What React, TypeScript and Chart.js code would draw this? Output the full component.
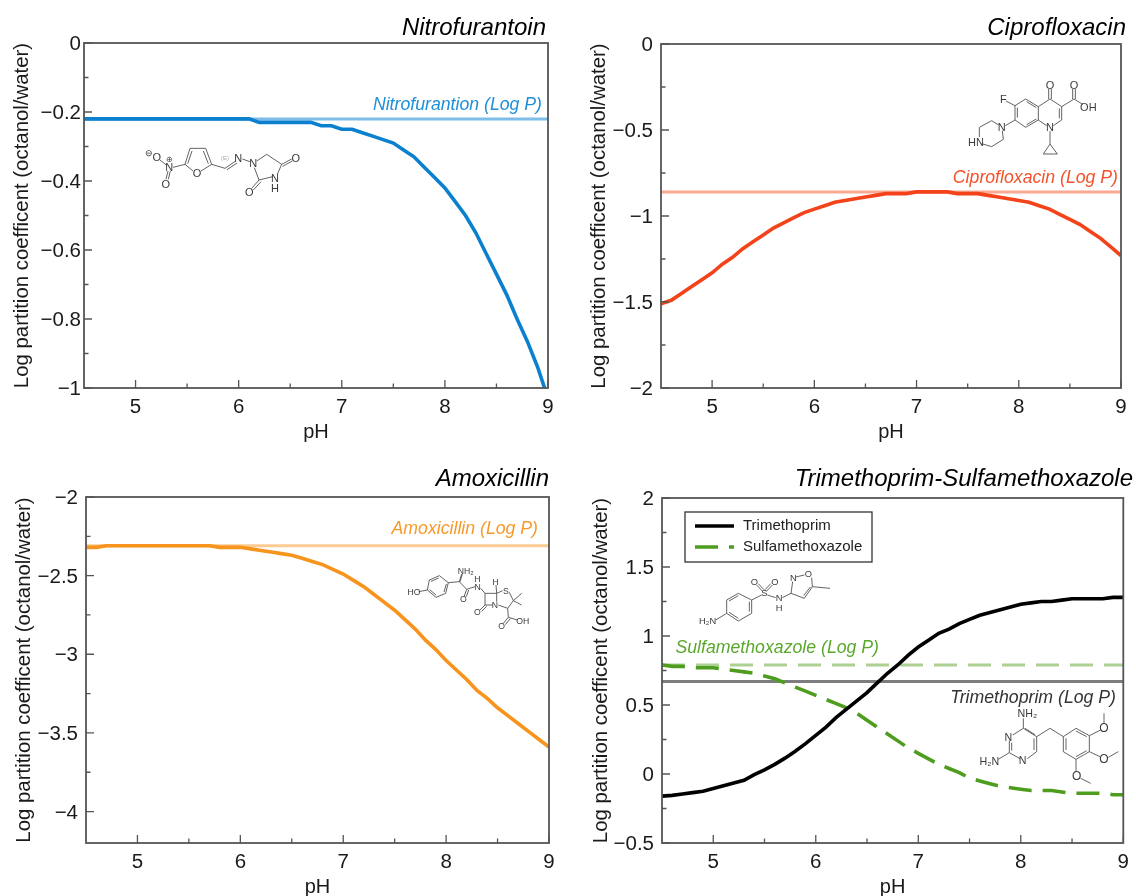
import React, { useEffect, useRef } from "react";
import { Chart, registerables } from "chart.js";

Chart.register(...registerables);

const FONT = "'Liberation Sans', Arial, sans-serif";

const pH = [
  4.5, 4.6, 4.7, 4.8, 4.9, 5, 5.1, 5.2, 5.3, 5.4, 5.5, 5.6, 5.7, 5.8, 5.9, 6, 6.1, 6.2, 6.3, 6.4, 6.5, 6.6, 6.7, 6.8,
  6.9, 7, 7.1, 7.2, 7.3, 7.4, 7.5, 7.6, 7.7, 7.8, 7.9, 8, 8.1, 8.2, 8.3, 8.4, 8.5, 8.6, 8.7, 8.8, 8.9, 9,
];
const xTicks = [5, 5.5, 6, 6.5, 7, 7.5, 8, 8.5, 9];

const nitrofurantoin = [
  -0.22, -0.22, -0.22, -0.22, -0.22, -0.22, -0.22, -0.22, -0.22, -0.22, -0.22, -0.22, -0.22, -0.22, -0.22, -0.22, -0.22,
  -0.23, -0.23, -0.23, -0.23, -0.23, -0.23, -0.24, -0.24, -0.25, -0.25, -0.26, -0.27, -0.28, -0.29, -0.31, -0.33, -0.36,
  -0.39, -0.42, -0.46, -0.5, -0.55, -0.61, -0.67, -0.73, -0.8, -0.865, -0.94, -1.03,
];
const ciprofloxacin = [
  -1.51, -1.49, -1.45, -1.41, -1.37, -1.33, -1.28, -1.24, -1.19, -1.15, -1.11, -1.07, -1.04, -1.01, -0.98, -0.96, -0.94,
  -0.92, -0.91, -0.9, -0.89, -0.88, -0.87, -0.87, -0.87, -0.86, -0.86, -0.86, -0.86, -0.87, -0.87, -0.87, -0.88, -0.89,
  -0.9, -0.91, -0.92, -0.94, -0.96, -0.99, -1.02, -1.05, -1.09, -1.13, -1.18, -1.23,
];
const amoxicillin = [
  -2.32, -2.32, -2.31, -2.31, -2.31, -2.31, -2.31, -2.31, -2.31, -2.31, -2.31, -2.31, -2.31, -2.32, -2.32, -2.32, -2.33,
  -2.34, -2.35, -2.36, -2.37, -2.39, -2.41, -2.43, -2.46, -2.49, -2.53, -2.57, -2.62, -2.67, -2.72, -2.78, -2.84, -2.91,
  -2.97, -3.04, -3.1, -3.16, -3.23, -3.28, -3.34, -3.39, -3.44, -3.49, -3.54, -3.59,
];
const trimethoprim = [
  -0.16, -0.155, -0.145, -0.135, -0.125, -0.105, -0.085, -0.065, -0.045, -0.005, 0.03, 0.07, 0.115, 0.165, 0.22, 0.28,
  0.34, 0.41, 0.47, 0.53, 0.59, 0.66, 0.73, 0.79, 0.86, 0.92, 0.97, 1.02, 1.05, 1.09, 1.12, 1.15, 1.17, 1.19, 1.21, 1.23,
  1.24, 1.25, 1.25, 1.26, 1.27, 1.27, 1.27, 1.27, 1.28, 1.28,
];
const sulfamethoxazole = [
  0.79, 0.78, 0.78, 0.77, 0.77, 0.77, 0.76, 0.75, 0.74, 0.73, 0.71, 0.69, 0.66, 0.63, 0.6, 0.57, 0.54, 0.51, 0.48, 0.44,
  0.39, 0.34, 0.29, 0.24, 0.19, 0.15, 0.11, 0.07, 0.04, 0.01, -0.03, -0.05, -0.07, -0.09, -0.1, -0.11, -0.12, -0.12,
  -0.12, -0.13, -0.14, -0.14, -0.14, -0.14, -0.15, -0.15,
];

const logPNitrofurantoin = -0.22;
const logPCiprofloxacin = -0.86;
const logPAmoxicillin = -2.31;
const logPTrimethoprim = 0.67;
const logPSulfamethoxazole = 0.79;

const yTicksNitro = [-1, -0.9, -0.8, -0.7, -0.6, -0.5, -0.4, -0.3, -0.2, -0.1, 0];
const yLabelsNitro = [-1, -0.8, -0.6, -0.4, -0.2, 0];
const yTicksCipro = [-2, -1.75, -1.5, -1.25, -1, -0.75, -0.5, -0.25, 0];
const yLabelsCipro = [-2, -1.5, -1, -0.5, 0];
const yTicksAmox = [-4, -3.75, -3.5, -3.25, -3, -2.75, -2.5, -2.25, -2];
const yLabelsAmox = [-4, -3.5, -3, -2.5, -2];
const yTicksTS = [-0.5, -0.25, 0, 0.25, 0.5, 0.75, 1, 1.25, 1.5, 1.75, 2];
const yLabelsTS = [-0.5, 0, 0.5, 1, 1.5, 2];

const Y_TITLE = "Log partition coefficent (octanol/water)";

type Note = { text: string; color: string; right: number; cy: number };
type Panel = {
  title: string;
  titleRight: number;
  titleCy: number;
  box: [number, number, number, number]; // canvas x,y,w,h
  plot: [number, number, number, number]; // left, top, right, bottom
  yMin: number;
  yMax: number;
  yTicks: number[];
  yLabels: number[];
  yTitlePad: number;
  yTickPad: number;
  xTitlePad: number;
  notes: Note[];
  datasets: any[];
  legend?: boolean;
};

const curve = (label: string, data: number[], color: string, dash: number[] = [], width = 3.6) => ({
  label,
  data: data.map((y, i) => ({ x: pH[i], y })),
  borderColor: color,
  borderWidth: width,
  borderDash: dash,
  pointRadius: 0,
  tension: 0,
  borderCapStyle: "butt",
});
const flat = (label: string, y: number, color: string, dash: number[] = []) => ({
  label,
  data: [
    { x: 4.5, y },
    { x: 9, y },
  ],
  borderColor: color,
  borderWidth: 3,
  borderDash: dash,
  pointRadius: 0,
  borderCapStyle: "butt",
});

const DASH = [23, 11];

const panels: Panel[] = [
  {
    title: "Nitrofurantoin",
    titleRight: 546,
    titleCy: 28,
    box: [0, 0, 568, 450],
    plot: [84, 43, 548, 388],
    yMin: -1,
    yMax: 0,
    yTicks: yTicksNitro,
    yLabels: yLabelsNitro,
    yTitlePad: 10,
    yTickPad: 3,
    xTitlePad: 6,
    notes: [{ text: "Nitrofurantion (Log P)", color: "#1e8fd8", right: 542, cy: 105 }],
    datasets: [
      curve("Nitrofurantoin", nitrofurantoin, "#0a80cf"),
      flat("Nitrofurantoin Log P", logPNitrofurantoin, "#7fbde8"),
    ],
  },
  {
    title: "Ciprofloxacin",
    titleRight: 1126,
    titleCy: 28,
    box: [568, 0, 568, 450],
    plot: [661, 44, 1121, 388],
    yMin: -2,
    yMax: 0,
    yTicks: yTicksCipro,
    yLabels: yLabelsCipro,
    yTitlePad: 19,
    yTickPad: 8,
    xTitlePad: 6,
    notes: [{ text: "Ciprofloxacin (Log P)", color: "#f4522a", right: 1118, cy: 178 }],
    datasets: [
      curve("Ciprofloxacin", ciprofloxacin, "#f4431a"),
      flat("Ciprofloxacin Log P", logPCiprofloxacin, "#f9a892"),
    ],
  },
  {
    title: "Amoxicillin",
    titleRight: 549,
    titleCy: 479,
    box: [0, 450, 568, 446],
    plot: [86, 497, 549, 843],
    yMin: -4.2,
    yMax: -2,
    yTicks: yTicksAmox,
    yLabels: yLabelsAmox,
    yTitlePad: 12,
    yTickPad: 8,
    xTitlePad: -3,
    notes: [{ text: "Amoxicillin (Log P)", color: "#f79a2a", right: 538, cy: 529 }],
    datasets: [
      curve("Amoxicillin", amoxicillin, "#f7941d"),
      flat("Amoxicillin Log P", logPAmoxicillin, "#fbcb92"),
    ],
  },
  {
    title: "Trimethoprim-Sulfamethoxazole",
    titleRight: 1133,
    titleCy: 479,
    box: [568, 450, 568, 446],
    plot: [662, 498, 1124, 843],
    yMin: -0.5,
    yMax: 2,
    yTicks: yTicksTS,
    yLabels: yLabelsTS,
    yTitlePad: 21,
    yTickPad: 8,
    xTitlePad: -3,
    legend: true,
    notes: [
      { text: "Sulfamethoxazole (Log P)", color: "#5ba82e", right: 879, cy: 648 },
      { text: "Trimethoprim (Log P)", color: "#333333", right: 1116, cy: 698 },
    ],
    datasets: [
      curve("Trimethoprim", trimethoprim, "#000000"),
      curve("Sulfamethoxazole", sulfamethoxazole, "#4f9d1f", DASH),
      flat("Trimethoprim Log P", logPTrimethoprim, "#7d7d7d"),
      flat("Sulfamethoxazole Log P", logPSulfamethoxazole, "#add093", DASH),
    ],
  },
];

const near = (a: number, b: number) => Math.abs(a - b) < 1e-6;
const fmt = (v: number) => (v < 0 ? "\u2212" + Math.abs(v) : String(v));

const decorate = (p: Panel) => ({
  id: "panelDecor",
  afterDatasetsDraw(chart: any) {
    const { ctx, chartArea: a, scales } = chart;
    const [ox, oy] = p.box;
    ctx.save();
    // inward ticks
    ctx.strokeStyle = "#555555";
    ctx.lineWidth = 1.3;
    ctx.beginPath();
    scales.x.ticks.forEach((t: any) => {
      const x = scales.x.getPixelForValue(t.value);
      const len = Number.isInteger(t.value) ? 8 : 4.5;
      ctx.moveTo(x, a.bottom);
      ctx.lineTo(x, a.bottom - len);
    });
    scales.y.ticks.forEach((t: any) => {
      const y = scales.y.getPixelForValue(t.value);
      const len = p.yLabels.some((v) => near(v, t.value)) ? 8 : 4.5;
      ctx.moveTo(a.left, y);
      ctx.lineTo(a.left + len, y);
    });
    ctx.stroke();
    // frame
    ctx.strokeStyle = "#555555";
    ctx.lineWidth = 1.8;
    ctx.strokeRect(a.left, a.top, a.right - a.left, a.bottom - a.top);
    // title and notes
    ctx.textAlign = "right";
    ctx.textBaseline = "middle";
    ctx.fillStyle = "#000000";
    ctx.font = `italic 24px ${FONT}`;
    ctx.fillText(p.title, p.titleRight - ox, p.titleCy - oy);
    ctx.font = `italic 17.7px ${FONT}`;
    p.notes.forEach((n) => {
      ctx.fillStyle = n.color;
      ctx.fillText(n.text, n.right - ox, n.cy - oy);
    });
    // legend
    if (p.legend) {
      const lx = 685 - ox;
      const ly = 512 - oy;
      ctx.fillStyle = "#ffffff";
      ctx.fillRect(lx, ly, 187, 50);
      ctx.strokeStyle = "#333333";
      ctx.lineWidth = 1.3;
      ctx.strokeRect(lx, ly, 187, 50);
      ctx.textAlign = "left";
      ctx.font = `15px ${FONT}`;
      chart.data.datasets.slice(0, 2).forEach((d: any, i: number) => {
        const y = ly + 14 + i * 21;
        ctx.save();
        ctx.strokeStyle = d.borderColor;
        ctx.lineWidth = 3.6;
        ctx.setLineDash(d.borderDash || []);
        ctx.beginPath();
        ctx.moveTo(lx + 10, y);
        ctx.lineTo(lx + 49, y);
        ctx.stroke();
        ctx.restore();
        ctx.fillStyle = "#222222";
        ctx.fillText(d.label, lx + 58, y);
      });
    }
    ctx.restore();
  },
});

function PanelChart({ p }: { p: Panel }) {
  const ref = useRef<HTMLCanvasElement>(null);
  useEffect(() => {
    const [bx, by, bw, bh] = p.box;
    const [l, t, r, b] = p.plot;
    const chart = new Chart(ref.current as HTMLCanvasElement, {
      type: "line",
      data: { datasets: p.datasets },
      plugins: [decorate(p)],
      options: {
        animation: false,
        responsive: false,
        events: [],
        layout: { padding: { top: t - by, right: bx + bw - r, left: 0, bottom: 0 } },
        plugins: { legend: { display: false }, title: { display: false }, tooltip: { enabled: false } },
        scales: {
          x: {
            type: "linear",
            min: 4.5,
            max: 9,
            grid: { display: false, drawTicks: false },
            border: { display: false },
            afterBuildTicks: (s: any) => {
              s.ticks = xTicks.map((value) => ({ value }));
            },
            afterFit: (s: any) => {
              s.height = by + bh - b;
            },
            ticks: {
              autoSkip: false,
              maxRotation: 0,
              padding: 7,
              color: "#1a1a1a",
              font: { family: FONT, size: 20.5 },
              callback: (v: any) => (Number.isInteger(v) ? String(v) : ""),
            },
            title: {
              display: true,
              text: "pH",
              color: "#1a1a1a",
              font: { family: FONT, size: 20 },
              padding: { top: 0, bottom: p.xTitlePad },
            },
          },
          y: {
            type: "linear",
            min: p.yMin,
            max: p.yMax,
            grid: { display: false, drawTicks: false },
            border: { display: false },
            afterBuildTicks: (s: any) => {
              s.ticks = p.yTicks.map((value) => ({ value }));
            },
            afterFit: (s: any) => {
              s.width = l - bx;
            },
            ticks: {
              autoSkip: false,
              padding: p.yTickPad,
              labelOffset: 1.5,
              color: "#1a1a1a",
              font: { family: FONT, size: 20.5 },
              callback: (v: any) => (p.yLabels.some((k) => near(k, v)) ? fmt(v) : ""),
            },
            title: {
              display: true,
              text: Y_TITLE,
              color: "#1a1a1a",
              font: { family: FONT, size: 20.4 },
              padding: { top: p.yTitlePad, bottom: 0 },
            },
          },
        },
      } as any,
    });
    return () => chart.destroy();
  }, [p]);
  return (
    <canvas
      ref={ref}
      width={p.box[2]}
      height={p.box[3]}
      style={{ position: "absolute", left: p.box[0], top: p.box[1], width: p.box[2], height: p.box[3] }}
    />
  );
}

type Mol = {
  crop: [number, number, number, number];
  bonds: number[][];
  labels: [string, number, number, number?, string?][];
};

const molecules: Mol[] = [
  {
    crop: [135, 135, 175, 75],
    bonds: [
      [75, 75, 94, 90], [99, 108, 93, 133], [106, 108, 100, 133], [114, 97, 150, 88],
      [150, 88, 165, 40], [158, 86, 171, 48], [165, 40, 212, 40], [212, 40, 230, 88], [205, 48, 220, 86],
      [230, 88, 198, 108], [174, 108, 150, 88], [230, 88, 270, 100], [270, 100, 302, 78], [276, 104, 306, 84],
      [322, 72, 345, 80], [365, 78, 395, 58], [395, 58, 440, 88], [440, 88, 427, 118], [413, 125, 372, 135],
      [372, 135, 358, 98], [440, 88, 470, 72], [443, 94, 472, 78], [372, 135, 350, 160], [378, 140, 355, 165],
    ],
    labels: [
      ["\u2296", 42, 55, 26], ["O", 65, 66], ["N", 103, 97], ["\u2295", 103, 72, 24], ["O", 92, 146], ["O", 186, 115],
      ["(E)", 270, 68, 18, "#aaaaaa"], ["N", 310, 68], ["N", 355, 85], ["O", 482, 68], ["N", 420, 130], ["H", 420, 158],
      ["O", 343, 170],
    ],
  },
  {
    crop: [960, 75, 150, 90],
    bonds: [
      [165, 92, 197, 72], [197, 72, 235, 95], [200, 80, 229, 98], [235, 95, 235, 135], [235, 135, 197, 157],
      [229, 132, 200, 149], [197, 157, 165, 135], [165, 135, 165, 92], [172, 128, 172, 98], [138, 78, 165, 92],
      [165, 135, 136, 152], [235, 95, 270, 72], [270, 72, 305, 95], [305, 95, 305, 135], [298, 100, 298, 130],
      [305, 135, 280, 152], [260, 152, 235, 135], [266, 42, 266, 72], [274, 42, 274, 72], [305, 95, 342, 72],
      [338, 42, 338, 72], [346, 42, 346, 72], [342, 72, 368, 88], [270, 168, 270, 207], [270, 207, 250, 237],
      [250, 237, 292, 237], [292, 237, 270, 207], [116, 150, 95, 137], [95, 137, 58, 157], [58, 157, 58, 186],
      [65, 206, 95, 215], [95, 215, 130, 193], [130, 193, 127, 167],
    ],
    labels: [
      ["F", 130, 72], ["O", 270, 30], ["O", 342, 30], ["OH", 385, 95], ["N", 125, 155], ["HN", 48, 200], ["N", 270, 157],
    ],
  },
  {
    crop: [400, 560, 140, 75],
    bonds: [
      [56, 95, 82, 90], [82, 90, 88, 60], [88, 60, 118, 47], [93, 64, 116, 54], [118, 47, 145, 68], [145, 68, 137, 100],
      [139, 72, 132, 96], [137, 100, 108, 112], [108, 112, 82, 90], [108, 105, 89, 89], [145, 68, 178, 65], [178, 65, 185, 42],
      [180, 65, 187, 43], [178, 65, 200, 88], [200, 88, 193, 108], [206, 90, 199, 110], [200, 88, 225, 80], [242, 85, 255, 100],
      [255, 100, 290, 100], [290, 100, 290, 125], [278, 135, 255, 135], [255, 135, 255, 100], [255, 135, 240, 150],
      [260, 139, 245, 154], [290, 100, 288, 75], [290, 100, 308, 92], [328, 97, 340, 122], [340, 122, 323, 145],
      [323, 145, 295, 135], [340, 122, 365, 100], [340, 122, 365, 135], [323, 145, 325, 172], [325, 172, 310, 190],
      [331, 176, 316, 194], [325, 172, 352, 180],
    ],
    labels: [
      ["HO", 42, 97, 26], ["NH\u2082", 197, 32, 26], ["H", 232, 57, 26], ["N", 233, 80, 26], ["H", 287, 67, 26], ["S", 318, 92, 26],
      ["N", 285, 135, 26], ["O", 232, 155, 26], ["O", 190, 118, 26], ["O", 305, 197, 26], ["OH", 368, 182, 26],
    ],
  },
  {
    crop: [685, 565, 150, 70],
    bonds: [
      [125, 105, 160, 85], [132, 108, 160, 92], [160, 85, 200, 105], [200, 105, 200, 145], [193, 110, 193, 140],
      [200, 145, 160, 168], [160, 168, 125, 145], [160, 160, 132, 142], [125, 145, 125, 105], [92, 165, 125, 145],
      [200, 105, 230, 90], [215, 60, 232, 78], [220, 56, 237, 74], [262, 60, 245, 78], [257, 56, 240, 74],
      [247, 90, 272, 98], [292, 98, 318, 85], [318, 85, 323, 50], [332, 36, 358, 30], [380, 38, 382, 65],
      [382, 65, 358, 100], [376, 66, 356, 92], [358, 100, 318, 85], [382, 65, 435, 70],
    ],
    labels: [
      ["O", 208, 50, 28], ["O", 270, 50, 28], ["S", 238, 85, 28], ["N", 282, 100, 28], ["H", 282, 130, 28], ["N", 325, 38, 28],
      ["O", 370, 28, 28], ["H\u2082N", 68, 168, 28],
    ],
  },
  {
    crop: [970, 700, 150, 90],
    bonds: [
      [160, 85, 128, 105], [118, 122, 118, 158], [125, 128, 125, 152], [118, 158, 150, 176], [172, 176, 200, 155],
      [200, 155, 200, 110], [192, 150, 192, 115], [200, 110, 160, 85], [195, 104, 165, 85], [160, 85, 160, 55],
      [118, 158, 85, 178], [200, 110, 240, 85], [240, 85, 280, 110], [280, 110, 318, 85], [318, 85, 358, 107],
      [318, 93, 350, 110], [358, 107, 358, 155], [358, 155, 318, 178], [350, 152, 318, 170], [318, 178, 280, 155],
      [280, 155, 280, 110], [288, 150, 288, 115], [358, 107, 392, 90], [402, 72, 402, 40], [358, 155, 390, 170],
      [415, 172, 445, 155], [318, 178, 318, 215], [332, 235, 362, 250],
    ],
    labels: [
      ["NH\u2082", 172, 40, 32], ["N", 115, 110, 32], ["N", 158, 180, 32], ["H\u2082N", 58, 182, 32], ["O", 402, 85, 36],
      ["O", 402, 178, 36], ["O", 320, 228, 36],
    ],
  },
];

function Molecule({ m }: { m: Mol }) {
  const [x, y, w, h] = m.crop;
  return (
    <svg
      width={w}
      height={h}
      viewBox={`0 0 ${w * 3} ${h * 3}`}
      style={{ position: "absolute", left: x, top: y, overflow: "visible" }}
    >
      {m.bonds.map((b, i) => (
        <line key={i} x1={b[0]} y1={b[1]} x2={b[2]} y2={b[3]} stroke="#4a4a4a" strokeWidth={2.6} />
      ))}
      {m.labels.map(([t, lx, ly, size, color], i) => (
        <text
          key={i}
          x={lx}
          y={ly}
          fill={color || "#3a3a3a"}
          fontFamily={FONT}
          fontSize={size || 33}
          textAnchor="middle"
          dominantBaseline="central"
        >
          {t}
        </text>
      ))}
    </svg>
  );
}

export default function App() {
  return (
    <div style={{ position: "absolute", left: 0, top: 0, width: 1136, height: 896, background: "#fff", overflow: "hidden" }}>
      {panels.map((p) => (
        <PanelChart key={p.title} p={p} />
      ))}
      {molecules.map((m, i) => (
        <Molecule key={i} m={m} />
      ))}
    </div>
  );
}
